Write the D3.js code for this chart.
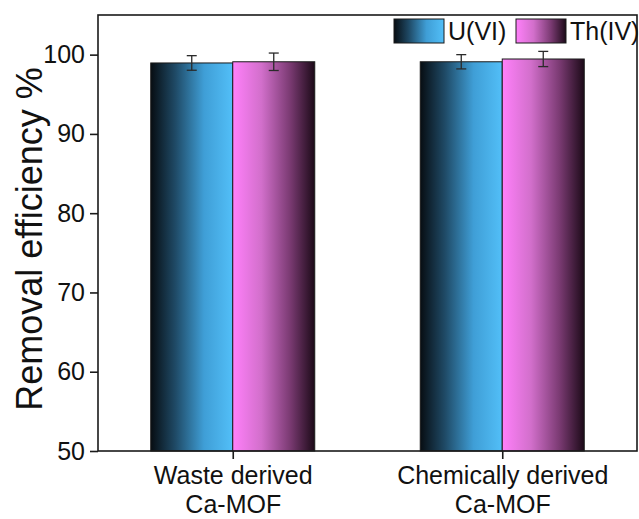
<!DOCTYPE html>
<html>
<head>
<meta charset="utf-8">
<script src="https://cdn.jsdelivr.net/npm/d3@7"></script>
<style>
  html, body { margin: 0; padding: 0; background: #fff; }
  svg { display: block; font-family: "Liberation Sans", Arial, sans-serif; }
</style>
</head>
<body>
<svg id="chart" width="639" height="519"></svg>
<script>
// Removal efficiency of U(VI) and Th(IV) on two Ca-MOF adsorbents
const categories = [["Waste derived", "Ca-MOF"], ["Chemically derived", "Ca-MOF"]];
const seriesNames = ["U(VI)", "Th(IV)"];
const uValues = [98.95, 99.1];
const thValues = [99.1, 99.45];
const uErrors = [0.92, 0.9];
const thErrors = [1.1, 0.96];
const yTicks = [50, 60, 70, 80, 90, 100];

const svg = d3.select("#chart");
const plot = { left: 98, right: 637, top: 15, bottom: 451 };

const x = d3.scalePoint()
  .domain(d3.range(categories.length))
  .range([plot.left, plot.right])
  .padding(0.5);
const inner = d3.scaleBand()
  .domain(seriesNames)
  .range([-82, 82])
  .paddingInner(0)
  .paddingOuter(0);
const y = d3.scaleLinear().domain([50, 105]).range([plot.bottom, plot.top]);

// Gradients for the two series
const defs = svg.append("defs");
function gradient(id, stops) {
  const g = defs.append("linearGradient").attr("id", id)
    .attr("x1", "0%").attr("x2", "100%").attr("y1", "0%").attr("y2", "0%");
  stops.forEach(([o, c]) => g.append("stop").attr("offset", o).attr("stop-color", c));
}
gradient("gradU", [["0%", "#070d12"], ["30%", "#1f4a66"], ["65%", "#3f9ed6"], ["100%", "#52bff8"]]);
gradient("gradTh", [["0%", "#ff80fa"], ["35%", "#d26fcb"], ["70%", "#7a3a72"], ["100%", "#1c0a18"]]);
const fills = { "U(VI)": "url(#gradU)", "Th(IV)": "url(#gradTh)" };

const rows = categories.map((c, i) => ({
  i,
  bars: [
    { s: "U(VI)", v: uValues[i], e: uErrors[i] },
    { s: "Th(IV)", v: thValues[i], e: thErrors[i] }
  ]
}));

// Bars
const groups = svg.append("g").selectAll("g").data(rows).join("g")
  .attr("transform", d => `translate(${x(d.i)},0)`);
groups.selectAll("rect").data(d => d.bars).join("rect")
  .attr("x", d => inner(d.s))
  .attr("width", inner.bandwidth())
  .attr("y", d => y(d.v))
  .attr("height", d => y(50) - y(d.v))
  .attr("fill", d => fills[d.s])
  .attr("stroke", "#1a1a1a")
  .attr("stroke-width", 1);

// Error bars
const eb = groups.selectAll("g.err").data(d => d.bars).join("g").attr("class", "err")
  .attr("stroke", "#2a2a2a").attr("stroke-width", 1.3);
eb.append("line")
  .attr("x1", d => inner(d.s) + inner.bandwidth() / 2)
  .attr("x2", d => inner(d.s) + inner.bandwidth() / 2)
  .attr("y1", d => y(d.v + d.e)).attr("y2", d => y(d.v - d.e));
[1, -1].forEach(sign => {
  eb.append("line")
    .attr("x1", d => inner(d.s) + inner.bandwidth() / 2 - 5)
    .attr("x2", d => inner(d.s) + inner.bandwidth() / 2 + 5)
    .attr("y1", d => y(d.v + sign * d.e)).attr("y2", d => y(d.v + sign * d.e));
});

// Frame
svg.append("rect")
  .attr("x", plot.left).attr("y", plot.top)
  .attr("width", plot.right - plot.left).attr("height", plot.bottom - plot.top)
  .attr("fill", "none").attr("stroke", "#1a1a1a").attr("stroke-width", 1.6);

// Y axis
const yAxis = svg.append("g").attr("transform", `translate(${plot.left},0)`)
  .call(d3.axisLeft(y).tickValues(yTicks).tickSize(8).tickPadding(5));
yAxis.select(".domain").remove();
yAxis.selectAll(".tick line").attr("stroke", "#1a1a1a").attr("stroke-width", 1.6);
yAxis.selectAll(".tick text").attr("font-size", 25).attr("fill", "#111")
  .attr("font-family", "Liberation Sans, Arial, sans-serif");

// X axis with two-line category labels
const xAxis = svg.append("g").attr("transform", `translate(0,${plot.bottom})`)
  .call(d3.axisBottom(x).tickSize(8).tickFormat(() => ""));
xAxis.select(".domain").remove();
xAxis.selectAll(".tick line").attr("stroke", "#1a1a1a").attr("stroke-width", 1.6);
xAxis.selectAll(".tick").each(function(d) {
  const t = d3.select(this).append("text")
    .attr("text-anchor", "middle").attr("fill", "#111")
    .attr("font-size", 25).attr("font-family", "Liberation Sans, Arial, sans-serif");
  categories[d].forEach((line, k) => {
    t.append("tspan").attr("x", 0).attr("y", 33 + k * 29).text(line);
  });
});

// Y title
svg.append("text")
  .attr("transform", `translate(42,${(plot.top + plot.bottom) / 2 + 6}) rotate(-90)`)
  .attr("text-anchor", "middle")
  .attr("font-size", 36).attr("fill", "#111")
  .text("Removal efficiency %");

// Legend
const legend = svg.append("g");
const legendItems = [
  { s: "U(VI)", x: 394 },
  { s: "Th(IV)", x: 516 }
];
legendItems.forEach(it => {
  legend.append("rect")
    .attr("x", it.x).attr("y", 19).attr("width", 50).attr("height", 24)
    .attr("fill", fills[it.s]).attr("stroke", "#1a1a1a").attr("stroke-width", 1);
  legend.append("text")
    .attr("x", it.x + 54).attr("y", 40)
    .attr("font-size", 25).attr("fill", "#111")
    .text(it.s);
});
</script>
</body>
</html>
